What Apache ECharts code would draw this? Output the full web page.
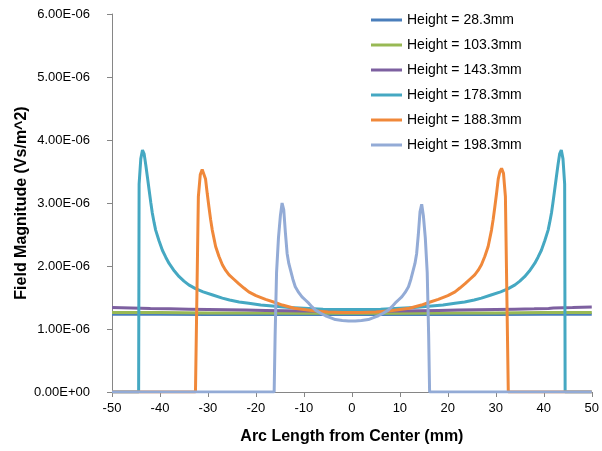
<!DOCTYPE html>
<html>
<head>
<meta charset="utf-8">
<script src="https://cdn.jsdelivr.net/npm/echarts@6/dist/echarts.min.js"></script>
<style>html,body{margin:0;padding:0;background:#fff}#c{width:602px;height:451px}</style>
</head>
<body>
<div id="c"></div>
<script>
// Values in units of 1e-6 Vs/m^2
const seriesNames = ['Height = 28.3mm','Height = 103.3mm','Height = 143.3mm','Height = 178.3mm','Height = 188.3mm','Height = 198.3mm'];
const colors = ['#4A7EBB','#98B954','#7D60A0','#45A8C2','#F0883A','#93ABD6'];
const UNIT = 1e-6;

const h28 = [[-50,1.235],[-40,1.235],[-30,1.23],[-20,1.23],[-10,1.23],[0,1.23],[10,1.23],[20,1.23],[30,1.23],[40,1.235],[50,1.235]];
const h103 = [[-50,1.26],[-40,1.26],[-30,1.255],[-20,1.255],[-10,1.25],[0,1.25],[10,1.25],[20,1.255],[30,1.255],[40,1.26],[50,1.26]];
const h143 = [[-50,1.34],[-46,1.335],[-42,1.325],[-38,1.32],[-34,1.315],[-30,1.31],[-26,1.305],[-22,1.30],[-18,1.295],[-14,1.29],[-10,1.285],[-5,1.28],[0,1.28],[5,1.28],[10,1.285],[14,1.29],[18,1.295],[22,1.30],[26,1.305],[30,1.31],[34,1.315],[38,1.32],[41,1.325],[42,1.335],[46,1.34],[50,1.35]];
const h178 = [[-50,0],[-44.45,0],[-44.35,3.3],[-44.0,3.7],[-43.65,3.84],[-43.3,3.78],[-42.95,3.6],[-42.6,3.4],[-42.27,3.21],[-41.9,3.0],[-41.6,2.84],[-41.2,2.68],[-40.9,2.57],[-40.2,2.4],[-39.5,2.25],[-38.8,2.14],[-38.1,2.04],[-37,1.92],[-36,1.83],[-35,1.76],[-34,1.70],[-32.6,1.64],[-31,1.59],[-29,1.54],[-27,1.49],[-25.5,1.46],[-23.5,1.43],[-21.5,1.41],[-19,1.38],[-16,1.36],[-13,1.34],[-10,1.33],[-6,1.315],[-3,1.31],[0,1.31],
  [3,1.31],[6,1.315],[10,1.33],[13,1.34],[16,1.36],[19,1.38],[21.5,1.41],[23.5,1.43],[25.5,1.46],[27,1.49],[29,1.54],[31,1.59],[32.6,1.64],[34,1.70],[35,1.76],[36,1.83],[37,1.92],[38.1,2.04],[38.8,2.14],[39.5,2.25],[40.2,2.4],[40.9,2.57],[41.2,2.68],[41.6,2.84],[41.9,3.0],[42.27,3.21],[42.6,3.4],[42.95,3.6],[43.3,3.78],[43.65,3.84],[44.0,3.7],[44.35,3.3],[44.45,0],[50,0]];
const h188 = [[-50,0],[-32.6,0],[-32.0,3.1],[-31.6,3.45],[-31.2,3.53],[-30.85,3.5],[-30.5,3.38],[-30.15,3.15],[-29.8,2.94],[-29.45,2.74],[-29.1,2.57],[-28.4,2.31],[-27.7,2.15],[-27.0,2.02],[-26.3,1.93],[-25.6,1.86],[-24.6,1.79],[-23.6,1.72],[-22.5,1.65],[-21.5,1.59],[-20,1.53],[-18,1.47],[-16,1.42],[-14.5,1.38],[-12,1.33],[-10,1.31],[-8,1.29],[-5,1.27],[-2,1.26],[0,1.26],
  [2,1.26],[5,1.27],[8,1.29],[10,1.31],[12,1.33],[14.5,1.38],[16,1.42],[18,1.47],[20,1.53],[21.5,1.59],[22.5,1.65],[23.6,1.72],[24.6,1.79],[25.6,1.86],[26.3,1.93],[27.0,2.02],[27.7,2.15],[28.4,2.31],[29.1,2.57],[29.45,2.74],[29.8,2.94],[30.15,3.15],[30.5,3.38],[30.85,3.5],[31.2,3.55],[31.6,3.47],[32.0,3.1],[32.6,0],[50,0]];
const h198 = [[-50,0],[-16.2,0],[-16.0,0.9],[-15.7,1.9],[-15.3,2.45],[-14.9,2.8],[-14.55,3.0],[-14.2,2.89],[-13.85,2.52],[-13.5,2.20],[-13.15,2.04],[-12.8,1.94],[-12.3,1.79],[-11.8,1.67],[-11.1,1.58],[-10.4,1.51],[-9.7,1.46],[-9.0,1.41],[-8.3,1.35],[-7.6,1.30],[-6.5,1.25],[-5.5,1.21],[-4.5,1.18],[-3.45,1.15],[-2,1.135],[-0.7,1.127],[0,1.127],
  [0.7,1.127],[2,1.135],[3.45,1.15],[4.5,1.18],[5.5,1.21],[6.5,1.25],[7.6,1.30],[8.3,1.35],[9.0,1.41],[9.7,1.46],[10.4,1.51],[11.1,1.58],[11.8,1.67],[12.3,1.79],[12.8,1.94],[13.15,2.04],[13.5,2.20],[13.85,2.5],[14.2,2.86],[14.55,2.98],[14.9,2.8],[15.3,2.45],[15.7,1.9],[16.0,0.9],[16.2,0],[50,0]];
const seriesData = [h28,h103,h143,h178,h188,h198];

const xTicks = {min:-50, max:50, interval:10};
const yTicks = {min:0, max:6e-6, interval:1e-6};

function fmtSci(v){
  if (Math.abs(v) < 1e-15) return '0.00E+00';
  const s = v.toExponential(2);
  const parts = s.split('e');
  const sign = parts[1][0];
  const num = parts[1].slice(1).padStart(2,'0');
  return parts[0] + 'E' + sign + num;
}

const font = 'Liberation Sans';
const chart = echarts.init(document.getElementById('c'), null, {renderer:'canvas'});
chart.setOption({
  animation:false,
  backgroundColor:'#fff',
  color: colors,
  grid:{left:112, right:9, top:14, bottom:59, containLabel:false},
  legend:{
    orient:'vertical', left:371, top:12, padding:0,
    itemWidth:31, itemHeight:3, itemGap:9, icon:'rect',
    textStyle:{fontFamily:font, fontSize:14, color:'#000', lineHeight:16},
    data: seriesNames
  },
  xAxis:{
    type:'value', min:xTicks.min, max:xTicks.max, interval:xTicks.interval,
    name:'Arc Length from Center (mm)', nameLocation:'middle', nameGap:37, nameMoveOverlap:false,
    nameTextStyle:{fontFamily:font, fontSize:16, fontWeight:'bold', color:'#000'},
    axisLine:{show:true, onZero:false, lineStyle:{color:'#868686', width:1}},
    axisTick:{show:true, inside:false, length:5, lineStyle:{color:'#868686'}},
    axisLabel:{fontFamily:font, fontSize:13, color:'#000', margin:10},
    splitLine:{show:false}
  },
  yAxis:{
    type:'value', min:yTicks.min, max:yTicks.max, interval:yTicks.interval,
    name:'Field Magnitude (Vs/m^2)', nameLocation:'middle', nameGap:82, nameRotate:90, nameMoveOverlap:false,
    nameTextStyle:{fontFamily:font, fontSize:16, fontWeight:'bold', color:'#000'},
    axisLine:{show:true, onZero:false, lineStyle:{color:'#868686', width:1}},
    axisTick:{show:true, inside:false, length:5, lineStyle:{color:'#868686'}},
    axisLabel:{fontFamily:font, fontSize:13, color:'#000', margin:22, formatter:fmtSci},
    splitLine:{show:false}
  },
  series: seriesData.map((d,i)=>({
    name: seriesNames[i], type:'line', showSymbol:false, symbol:'none',
    data: d.map(p=>[p[0], p[1]*UNIT]),
    lineStyle:{width:3, color:colors[i]},
    itemStyle:{color:colors[i]},
    smooth:false, clip:true
  }))
});
</script>
</body>
</html>
